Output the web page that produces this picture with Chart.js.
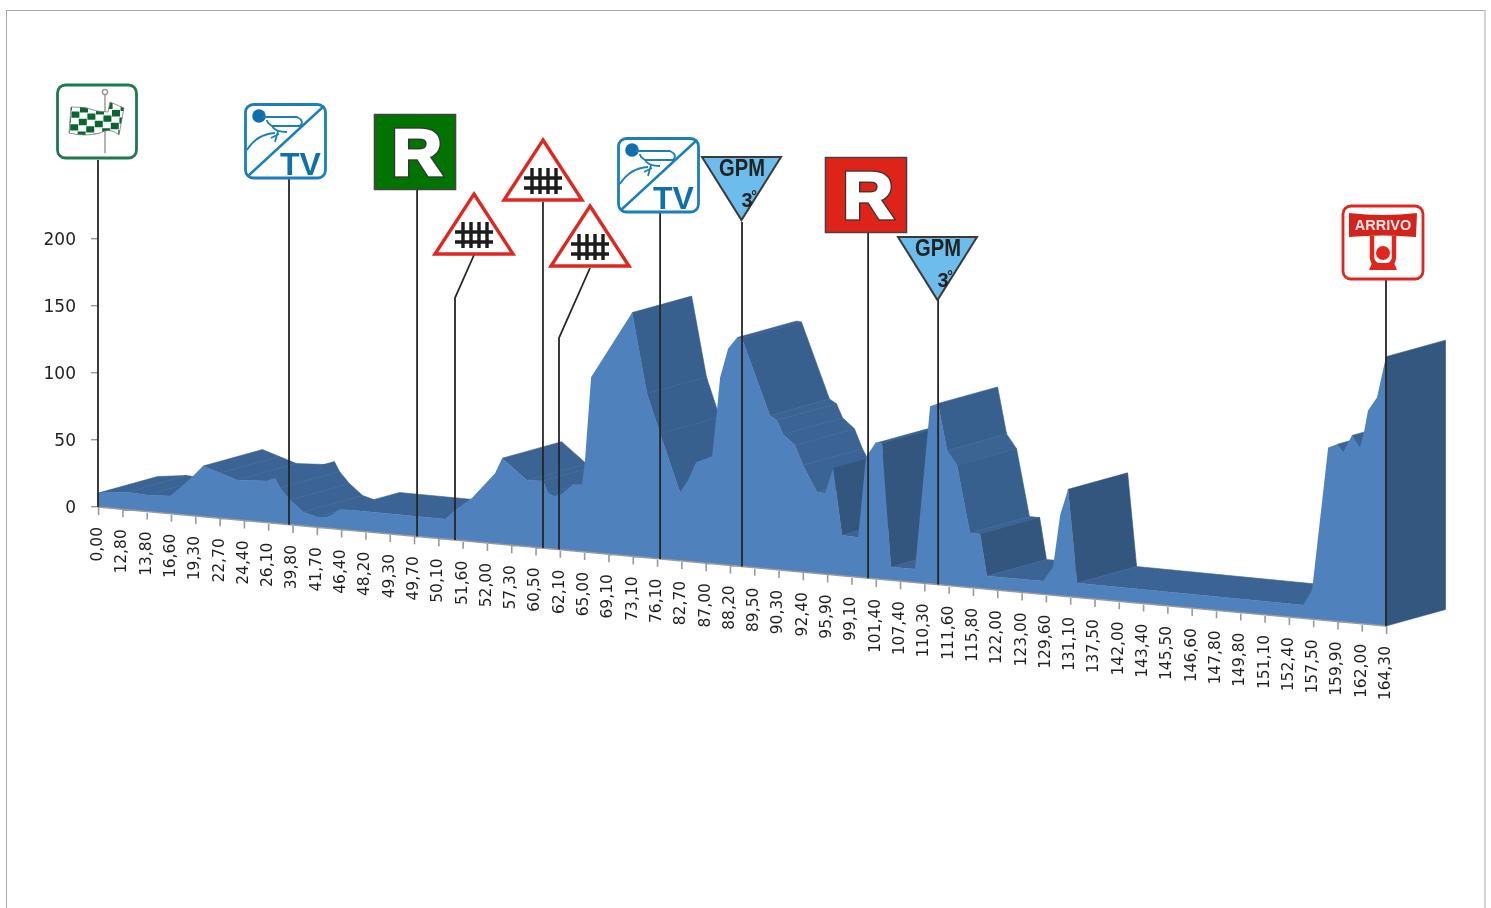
<!DOCTYPE html>
<html><head><meta charset="utf-8">
<style>html,body{margin:0;padding:0;background:#fff;overflow:hidden}canvas{display:block}</style>
<script src="https://cdn.jsdelivr.net/npm/chart.js@4"></script>
</head><body><canvas id="c" width="1491" height="908"></canvas>
<script>
const tickLabels=["0,00","12,80","13,80","16,60","19,30","22,70","24,40","26,10","39,80","41,70","46,40","48,20","49,30","49,70","50,10","51,60","52,00","57,30","60,50","62,10","65,00","69,10","73,10","76,10","82,70","87,00","88,20","89,50","90,30","92,40","95,90","99,10","101,40","107,40","110,30","111,60","115,80","122,00","123,00","129,60","131,10","137,50","142,00","143,40","145,50","146,60","147,80","149,80","151,10","152,40","157,50","159,90","162,00","164,30"];
const yTicks=[0,50,100,150,200];
const profilePos=[0,1.19,2.02,2.96,3.37,3.91,4.32,5.02,5.72,6.95,7.28,7.49,7.9,8.44,9.01,9.42,9.67,9.96,14.28,14.69,15.39,16.34,16.63,17.65,18.31,18.52,18.72,19.01,19.55,19.92,20.04,20.29,21.98,22.59,23.13,23.95,24.28,24.61,25.27,25.47,25.6,25.93,26.3,26.5,27.65,27.94,28.19,28.68,29.01,29.59,29.92,30.25,30.62,31.28,31.6,31.98,32.26,32.63,33.62,34.24,34.57,34.94,35.35,35.88,36.3,36.58,38.89,39.3,39.59,39.92,40.29,49.59,49.96,50.62,50.99,51.23,51.6,51.93,52.1,52.26,52.63,53];
const profileAlt=[10.4,13.2,12.3,13.2,19.8,29.6,37.8,33.7,29.7,31,33.8,26.7,18.4,10.4,7.6,8.3,11,15.2,15,22.3,32.5,52.6,64.3,49.6,50,41.4,39.5,40.7,49.8,50.4,68.5,130.8,181.9,122.6,93.7,51.2,60.7,74.7,80.2,114.8,139.6,161.7,170.5,170.1,114.7,111.5,101.5,94.1,79.7,60.6,60.5,79.6,30.3,29.9,90.1,101.1,101.6,9.9,10.1,132.5,135.2,100.8,90.4,40.7,40.6,9.8,9.9,21,60.2,80.1,10.8,9.9,21.7,129.3,132.2,126.6,139.9,131.5,143.7,159.6,169.9,201];
const signs=[
 {type:"start",pos:0,top:160},{type:"tv",pos:7.86,top:179,ox:245,oy:104},{type:"rgreen",pos:13.13,top:190},
 {type:"rail",pos:14.69,top:298,bendX:474,bendY:255,ax:474,ay:192},{type:"rail",pos:18.31,top:202,ax:543,ay:138},
 {type:"rail",pos:18.97,top:338,bendX:590,bendY:268,ax:590,ay:204},{type:"tv",pos:23.13,top:212,ox:618,oy:138},
 {type:"gpm",pos:26.5,top:222,ax:741,ay:157},{type:"rred",pos:31.69,top:232},{type:"gpm",pos:34.57,top:300,ax:937,ay:237},
 {type:"arrivo",pos:53,top:279}];
const FONT='"DejaVu Sans"',BOLD='"Liberation Sans"';
const SLOPE=119/1288, DEPTH={x:59.5,y:-16.5};
function rr(c,x,y,w,h,r){c.beginPath();c.roundRect(x,y,w,h,r);}
function flagPath(c){c.beginPath();c.moveTo(71,107);c.quadraticCurveTo(85,106,97,111);c.lineTo(108,112);c.lineTo(110,102);c.lineTo(124,108);c.lineTo(119,135);c.quadraticCurveTo(110,127,100,133);c.quadraticCurveTo(85,137,69,133);c.closePath();}
function drawFlag(c){
 rr(c,57.5,85,79,73,8);c.fillStyle="#fff";c.fill();c.strokeStyle="#1d7a4c";c.lineWidth=2.8;c.stroke();
 c.strokeStyle="#9a9a9a";c.lineWidth=1.5;c.beginPath();c.moveTo(105,94);c.lineTo(105,153);c.stroke();
 c.beginPath();c.arc(105,92,2.6,0,7);c.stroke();
 c.save();flagPath(c);c.fillStyle="#fff";c.fill();c.clip();c.fillStyle="#0a6630";
 for(let r=-1;r<6;r++)for(let k=-1;k<10;k++){if((r+k+20)%2)continue;
  const x=64+k*8-r*0.6,y=104+r*6.4+k*1.0;c.beginPath();c.rect(x,y,8,6.4);c.fill();}
 c.restore();c.strokeStyle="#777";c.lineWidth=.8;flagPath(c);c.stroke();
}
function drawTV(c,x,y){
 const col="#1a7fba";rr(c,x+.5,y+.5,80,73.5,8);c.fillStyle="#fff";c.fill();c.strokeStyle=col;c.lineWidth=2.8;c.stroke();
 c.lineWidth=2.4;c.beginPath();c.moveTo(x+3,y+72);c.lineTo(x+79,y+2);c.stroke();
 c.fillStyle="#0f70ad";c.beginPath();c.arc(x+14,y+12,6.8,0,7);c.fill();
 c.lineWidth=1.8;c.beginPath();c.moveTo(x+18,y+13);c.lineTo(x+52,y+13);c.quadraticCurveTo(x+60,y+17,x+55,y+22);c.lineTo(x+27,y+22);c.quadraticCurveTo(x+22,y+19,x+22,y+16);
 c.moveTo(x+27,y+22);c.quadraticCurveTo(x+30,y+28,x+42,y+28);
 c.moveTo(x+33,y+27);c.lineTo(x+30,y+38);c.moveTo(x+34,y+30);c.lineTo(x+26,y+34);
 c.moveTo(x+2,y+46);c.quadraticCurveTo(x+12,y+30,x+30,y+29);c.stroke();
 c.font=`bold 32px ${BOLD}`;c.textAlign="left";c.textBaseline="alphabetic";c.fillText("TV",x+35,y+71);
}
function drawR(c,x,y,fill){
 c.fillStyle=fill;c.strokeStyle="#444";c.lineWidth=1.6;c.beginPath();c.rect(x+.5,y+.5,81,75);c.fill();c.stroke();
 c.save();c.translate(x+43,y+61);c.scale(1.08,1);
 c.font=`bold 64px ${BOLD}`;c.textAlign="center";c.textBaseline="alphabetic";c.lineJoin="miter";
 c.strokeStyle="#333";c.lineWidth=5;c.strokeText("R",0,0);
 c.strokeStyle="#fff";c.lineWidth=2.6;c.strokeText("R",0,0);
 c.fillStyle="#fff";c.fillText("R",0,0);c.restore();
}
function drawRail(c,ax,ay){
 c.beginPath();c.moveTo(ax,ay+2);c.lineTo(ax+39,ay+62);c.lineTo(ax-39,ay+62);c.closePath();c.fillStyle="#fff";c.fill();c.strokeStyle="#e0271f";c.lineWidth=3.4;c.lineJoin="miter";c.stroke();
 c.strokeStyle="#1c1c1c";c.lineWidth=3.4;c.beginPath();
 [-11,-3,5,13].forEach(d=>{c.moveTo(ax+d,ay+30);c.lineTo(ax+d,ay+56);});
 [40,50].forEach(d=>{c.moveTo(ax-19,ay+d);c.lineTo(ax+19,ay+d);});c.stroke();
}
function drawGPM(c,ax,ay){
 c.beginPath();c.moveTo(ax-39,ay);c.lineTo(ax+40,ay);c.lineTo(ax+.5,ay+63);c.closePath();c.fillStyle="#6cbcec";c.fill();c.strokeStyle="#3a3a3a";c.lineWidth=2;c.stroke();
 c.fillStyle="#222";c.textAlign="center";c.textBaseline="middle";c.font=`bold 21px ${BOLD}`;
 c.save();c.translate(ax+1,ay+13);c.scale(.96,1.1);c.fillText("GPM",0,0);c.restore();
 c.font=`bold 20px ${BOLD}`;c.fillText("3",ax+6,ay+44);c.font=`bold 14px ${BOLD}`;c.fillText("°",ax+13,ay+40);
}
function drawArrivo(c){
 const col="#e0271f";rr(c,1343,206,80,73,8);c.fillStyle="#fff";c.fill();c.strokeStyle=col;c.lineWidth=2.8;c.stroke();
 c.fillStyle="#d3231d";c.beginPath();c.moveTo(1349,213);c.quadraticCurveTo(1383,217,1417,213);c.lineTo(1416,237);c.quadraticCurveTo(1383,234,1349,237);c.closePath();c.fill();
 c.fillStyle="#e6e6e6";c.font=`bold 14.5px ${BOLD}`;c.textAlign="center";c.textBaseline="middle";c.fillText("ARRIVO",1383,225.5);
 c.fillStyle=col;c.strokeStyle=col;c.lineWidth=4.5;c.beginPath();c.moveTo(1372,236);c.lineTo(1372,258);c.quadraticCurveTo(1373,266,1383,266);c.quadraticCurveTo(1393,266,1394,258);c.lineTo(1394,236);c.stroke();
 c.beginPath();c.arc(1383,253,7,0,7);c.fill();c.beginPath();c.moveTo(1372,263);c.lineTo(1394,263);c.lineTo(1397,270);c.lineTo(1369,270);c.closePath();c.fill();
}
function faceColour(s){ return s>=6?"#33567e":(s>=2.6?"#38608f":"#3b6495"); }
const profile3d={id:"profile3d",
 beforeDraw(ch){const c=ch.ctx;c.save();c.fillStyle="#fff";c.fillRect(0,0,1491,908);c.strokeStyle="#a8a8a8";c.lineWidth=1;c.strokeRect(6.5,10.5,1478.5,1000);c.restore();},
 beforeDatasetsDraw(ch){
  const c=ch.ctx,xs=ch.scales.x,ys=ch.scales.y,x0=xs.getPixelForValue(0);
  const P=(pos,v)=>{const x=xs.getPixelForValue(pos);return {x,y:ys.getPixelForValue(v)+SLOPE*(x-x0)};};
  const pts=profilePos.map((p,i)=>P(p,profileAlt[i]));
  c.save();
  const quad=(a,b,col)=>{c.beginPath();c.moveTo(a.x,a.y);c.lineTo(b.x,b.y);c.lineTo(b.x+DEPTH.x,b.y+DEPTH.y);c.lineTo(a.x+DEPTH.x,a.y+DEPTH.y);c.closePath();c.fillStyle=col;c.strokeStyle=col;c.lineWidth=.6;c.fill();c.stroke();};
  const lim=DEPTH.y/DEPTH.x;
  for(let i=0;i<pts.length-1;i++){
   const a=pts[i],b=pts[i+1],s=(b.y-a.y)/(b.x-a.x);
   if(s<=lim)continue;
   quad(a,b,faceColour(s));
  }
  const last=pts[pts.length-1];quad(last,P(profilePos[profilePos.length-1],0),"#345780");
  c.restore();
  c.save();c.translate(0,-SLOPE*x0);c.transform(1,SLOPE,0,1,0,0);
 },
 afterDatasetsDraw(ch){
  const c=ch.ctx,xs=ch.scales.x,ys=ch.scales.y;c.restore();
  const x0=xs.getPixelForValue(0),y0=ys.getPixelForValue(0),B=x=>y0+SLOPE*(x-x0);
  c.save();
  c.strokeStyle="#999";c.lineWidth=1.6;c.beginPath();
  const xe=xs.getPixelForValue(tickLabels.length-1);c.moveTo(x0,B(x0));c.lineTo(xe,B(xe));
  tickLabels.forEach((_,i)=>{const x=xs.getPixelForValue(i)+.6;c.moveTo(x,B(x));c.lineTo(x,B(x)+8);});c.stroke();
  c.fillStyle="#1f1f1f";c.font=`15.5px ${FONT}`;c.textAlign="right";c.textBaseline="middle";
  tickLabels.forEach((t,i)=>{const x=xs.getPixelForValue(i);c.save();c.translate(x,B(x)+20);c.rotate(-Math.PI/2);c.fillText(t,0,0);c.restore();});
  c.fillStyle="#222";c.font=`17px ${FONT}`;c.textAlign="right";
  ys.ticks.forEach(t=>{c.fillText(String(t.value),76,ys.getPixelForValue(t.value)+1.5);});
  c.strokeStyle="#262626";c.lineWidth=1.8;
  signs.forEach(s=>{const x=xs.getPixelForValue(s.pos);c.beginPath();if(s.bendX!==undefined){c.moveTo(s.bendX,s.bendY);c.lineTo(x,s.top);}
   else c.moveTo(x,s.top);c.lineTo(x,B(x));c.stroke();});
  signs.forEach(s=>{
   if(s.type==="start")drawFlag(c);
   if(s.type==="tv")drawTV(c,s.ox,s.oy);
   if(s.type==="rgreen")drawR(c,374,114,"#007300");
   if(s.type==="rred")drawR(c,825,157,"#de2318");
   if(s.type==="rail")drawRail(c,s.ax,s.ay);
   if(s.type==="gpm")drawGPM(c,s.ax,s.ay);
   if(s.type==="arrivo")drawArrivo(c);
  });
  c.restore();
 }
};
new Chart(document.getElementById("c"),{
 type:"line",
 data:{datasets:[{label:"Altimetria",data:profilePos.map((p,i)=>({x:p,y:profileAlt[i]})),parsing:false,fill:"origin",backgroundColor:"#4f81bd",borderWidth:0,pointRadius:0,tension:0,clip:false}]},
 options:{responsive:false,animation:false,devicePixelRatio:1,
  layout:{padding:{left:38,right:105,top:172,bottom:401}},
  plugins:{legend:{display:false},tooltip:{enabled:false},title:{display:false}},
  scales:{
   x:{type:"linear",min:0,max:tickLabels.length-1,display:false},
   y:{min:0,max:250,afterFit(s){s.width=60;},
      afterBuildTicks(s){s.ticks=yTicks.map(v=>({value:v}));},
      border:{display:false},
      grid:{drawOnChartArea:false,drawTicks:true,tickLength:7,color:"#999",lineWidth:1.4},
      ticks:{display:false}}
  }},
 plugins:[profile3d]
});
</script></body></html>
